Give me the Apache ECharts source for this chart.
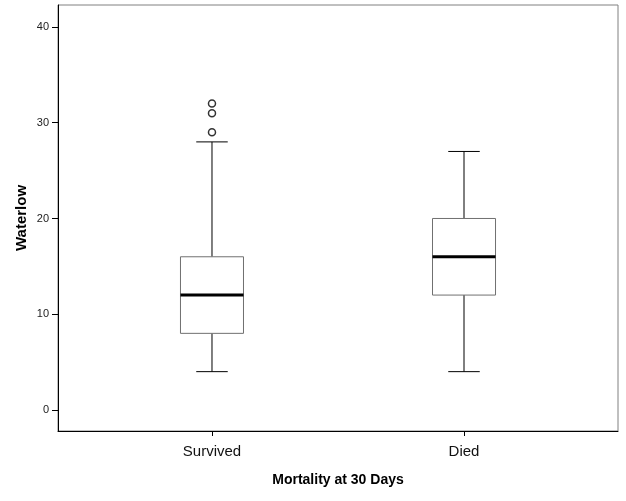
<!DOCTYPE html>
<html>
<head>
<meta charset="utf-8">
<script src="https://cdn.jsdelivr.net/npm/echarts@6/dist/echarts.min.js"></script>
<style>html,body{margin:0;padding:0;background:#fff;}#c{width:626px;height:501px;}</style>
</head>
<body>
<div id="c"></div>
<script>
const categories = ['Survived', 'Died'];
const mins = [4, 4];
const q1s = [8, 12];
const medians = [12, 16];
const q3s = [16, 20];
const maxs = [28, 27];
const outlierGroup = [0, 0, 0];
const outlierValues = [29, 31, 32];
const yTicks = [0, 10, 20, 30, 40];
const xTicks = [0, 1];

const boxData = categories.map((c, i) => [i, mins[i], q1s[i], medians[i], q3s[i], maxs[i]]);
const outlierData = outlierValues.map((v, i) => [outlierGroup[i], v]);

function renderItem(params, api) {
  const x = api.value(0);
  const pMin = api.coord([x, api.value(1)]);
  const pQ1 = api.coord([x, api.value(2)]);
  const pMed = api.coord([x, api.value(3)]);
  const pQ3 = api.coord([x, api.value(4)]);
  const pMax = api.coord([x, api.value(5)]);
  const bw = api.size([1, 0])[0] * 0.25;
  const cw = bw / 2;
  const cx = pMin[0];
  const black = { stroke: '#000', lineWidth: 1 };
  return {
    type: 'group',
    children: [
      { type: 'line', shape: { x1: cx, y1: pMin[1], x2: cx, y2: pQ1[1] }, style: black },
      { type: 'line', shape: { x1: cx, y1: pQ3[1], x2: cx, y2: pMax[1] }, style: black },
      { type: 'line', shape: { x1: cx - cw / 2, y1: pMin[1], x2: cx + cw / 2, y2: pMin[1] }, style: black },
      { type: 'line', shape: { x1: cx - cw / 2, y1: pMax[1], x2: cx + cw / 2, y2: pMax[1] }, style: black },
      { type: 'rect', shape: { x: cx - bw / 2, y: pQ3[1], width: bw, height: pQ1[1] - pQ3[1] },
        style: { fill: '#fff', stroke: '#707070', lineWidth: 1 } },
      { type: 'line', shape: { x1: cx - bw / 2, y1: pMed[1], x2: cx + bw / 2, y2: pMed[1] },
        style: { stroke: '#000', lineWidth: 3 } }
    ]
  };
}

const chart = echarts.init(document.getElementById('c'), null, { renderer: 'canvas' });
chart.setOption({
  animation: false,
  backgroundColor: '#fff',
  grid: { left: 58, top: 5, right: 8, bottom: 70, show: true, borderColor: '#808080', borderWidth: 1, backgroundColor: 'transparent' },
  xAxis: {
    type: 'value', min: -0.611, max: 1.611,
    name: 'Mortality at 30 Days', nameLocation: 'middle', nameGap: 42, nameMoveOverlap: false,
    nameTextStyle: { fontFamily: 'Liberation Sans', fontWeight: 'bold', fontSize: 14, color: '#000' },
    axisLine: { show: true, onZero: false, lineStyle: { color: '#000', width: 1 } },
    axisTick: { show: true, customValues: xTicks, length: 5, lineStyle: { color: '#000' } },
    axisLabel: { customValues: xTicks, margin: 13, fontFamily: 'Liberation Sans', fontSize: 15, color: '#111',
      formatter: v => categories[Math.round(v)] },
    splitLine: { show: false }
  },
  yAxis: {
    type: 'value', min: -2.2, max: 42.3,
    name: 'Waterlow', nameLocation: 'middle', nameGap: 29, nameMoveOverlap: false,
    nameTextStyle: { fontFamily: 'Liberation Sans', fontWeight: 'bold', fontSize: 15, color: '#000' },
    axisLine: { show: true, onZero: false, lineStyle: { color: '#000', width: 1 } },
    axisTick: { show: true, customValues: yTicks, length: 6, lineStyle: { color: '#000' } },
    axisLabel: { customValues: yTicks, margin: 9, fontFamily: 'Liberation Sans', fontSize: 11, color: '#222' },
    splitLine: { show: false }
  },
  series: [
    { type: 'custom', renderItem: renderItem, data: boxData, encode: { x: 0, y: [1, 2, 3, 4, 5] }, z: 2 },
    { type: 'scatter', data: outlierData, symbol: 'circle', symbolSize: 7,
      itemStyle: { color: '#fff', borderColor: '#000', borderWidth: 1.5 }, z: 3 }
  ]
});
</script>
</body>
</html>
